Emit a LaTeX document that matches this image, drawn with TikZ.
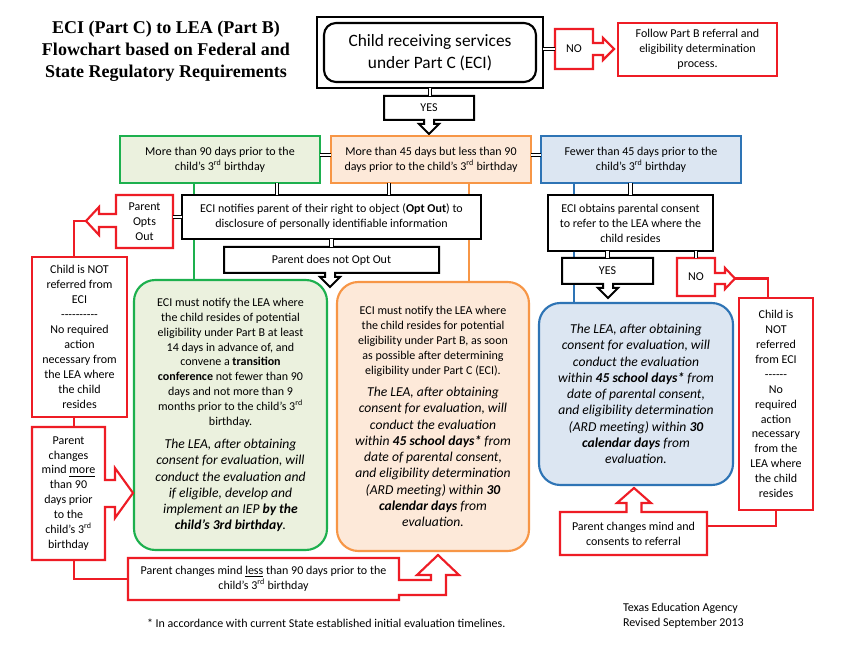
\documentclass[tikz,border=0pt]{standalone}
\usepackage{fontspec}
\setmainfont{Carlito}
\newfontfamily\ttlfont{Liberation Serif}
\usetikzlibrary{calc,backgrounds}
\definecolor{gfill}{HTML}{EBF1DE}
\definecolor{gline}{HTML}{1DB04E}
\definecolor{ofill}{HTML}{FDE9D9}
\definecolor{oline}{HTML}{F79646}
\definecolor{bfill}{HTML}{DCE6F2}
\definecolor{bline}{HTML}{2E74B5}
\definecolor{redc}{HTML}{EE1C25}
\newcommand\fsn{\fontsize{9}{11.2}\selectfont}
\newcommand\fsr{\fontsize{9}{12.2}\selectfont}
\newcommand\thrd{\textsuperscript{rd}}
\newcommand\il[1]{{\fontsize{10.2}{12.2}\selectfont\itshape #1}}
\newcommand\bx[7]{\node[#6, minimum width={(#4-#2)*0.75pt}, minimum height={(#5-#3)*0.75pt}] (#1) at ({(#2+#4)/2},{(#3+#5)/2}) {#7};}
\begin{document}
\begin{tikzpicture}[x=0.75pt,y=-0.75pt,
  base/.style={inner sep=0pt,outer sep=0pt,align=center,font=\fsn},
  blk/.style={base,draw=black,line width=1.5pt,fill=white},
  redb/.style={base,draw=redc,line width=1.6pt,fill=white},
  co/.style={draw=redc,line width=1.6pt,fill=white,line join=miter},
  cob/.style={draw=black,line width=1.5pt,fill=white,line join=miter},
  gbox/.style={base,draw=gline,fill=gfill,line width=1.6pt},
  obox/.style={base,draw=oline,fill=ofill,line width=1.6pt},
  bbox/.style={base,draw=bline,fill=bfill,line width=1.6pt},
  rnd/.style={rounded corners=16pt,font=\fsr},
  dbl/.style={draw=black,double=white,double distance=1.6pt,line width=0.9pt},
  redline/.style={draw=redc,line width=2.2pt},
  vline/.style={line width=1.6pt}
]
\useasboundingbox (0,0) rectangle (850,645);

\coordinate (gx) at (194,0);
\coordinate (ox) at (469,0);
\coordinate (bxx) at (574,0);
\coordinate (d1) at (277,0);
\coordinate (d2) at (389,0);
\coordinate (dy) at (0,155);
\coordinate (lx) at (74,0);
\coordinate (rx) at (768,0);
\coordinate (ry) at (0,526);

% title
\node[base,font=\ttlfont\bfseries\fontsize{13.5}{16.5}\selectfont] (title) at (166,51) {ECI (Part C) to LEA (Part B)\\Flowchart based on Federal and\\State Regulatory Requirements};

% main box
\bx{main}{317}{17}{543}{88}{base,draw=black,line width=2.2pt,fill=white}{}
\bx{maininner}{324}{23}{536}{82}{base,draw=black,line width=1.6pt,rounded corners=9pt,font=\fontsize{13}{16.5}\selectfont}{Child receiving services\\under Part C (ECI)}

% NO (top)
\draw[co] (555,29) -- (593,29) -- (593,43) -- (603,43) -- (603,38) -- (614,49) -- (603,60) -- (603,55) -- (593,55) -- (593,69) -- (555,69) -- cycle;
\bx{no1}{555}{29}{593}{69}{base}{NO}
\bx{follow}{618}{23}{777}{76}{redb}{Follow Part B referral and\\eligibility determination\\process.}
\draw[dbl] (no1.west -| main.east) -- (no1.west);

% YES (top)
\draw[cob] (384,96) -- (474,96) -- (474,120) -- (434,120) -- (434,124) -- (439,124) -- (429,134) -- (419,124) -- (424,124) -- (424,120) -- (384,120) -- cycle;
\bx{yes1}{384}{96}{474}{120}{base}{YES}
\draw[dbl] (main.south) -- (main.south |- yes1.north);

% three condition boxes
\bx{green}{120}{136}{320}{183}{gbox}{More than 90 days prior to the\\child’s 3\thrd{} birthday}
\bx{orange}{331}{136}{531}{183}{obox}{More than 45 days but less than 90\\days prior to the child’s 3\thrd{} birthday}
\bx{blue}{541}{136}{741}{183}{bbox}{Fewer than 45 days prior to the\\child’s 3\thrd{} birthday}
\draw[dbl] (dy -| green.east) -- (dy -| orange.west);
\draw[dbl] (dy -| orange.east) -- (dy -| blue.west);

% notify
\bx{notify}{182}{195}{481}{239}{blk}{ECI notifies parent of their right to object (\textbf{Opt Out}) to\\disclosure of personally identifiable information}
\draw[dbl] (d1 |- green.south) -- (d1 |- notify.north);
\draw[dbl] (d2 |- orange.south) -- (d2 |- notify.north);

% parent opts out
\draw[co] (116,195) -- (173,195) -- (173,248) -- (116,248) -- (116,227) -- (99,227) -- (99,235) -- (86,221) -- (99,207) -- (99,214) -- (116,214) -- cycle;
\bx{optsout}{116}{195}{173}{248}{base}{Parent\\Opts\\Out}
\coordinate (optip) at (86,221);
\draw[dbl] (notify.west) -- (notify.west -| optsout.east);

% parent does not opt out
\draw[cob] (224,247) -- (439,247) -- (439,273) -- (335,273) -- (335,277) -- (340,277) -- (330,287) -- (320,277) -- (325,277) -- (325,273) -- (224,273) -- cycle;
\bx{notopt}{224}{247}{439}{273}{base}{Parent does not Opt Out}
\draw[dbl] (notify.south) -- (notify.south |- notopt.north);

% obtains consent
\bx{obtain}{548}{195}{713}{251}{blk}{ECI obtains parental consent\\to refer to the LEA where the\\child resides}
\draw[dbl] (obtain.north |- blue.south) -- (obtain.north);

% YES right
\draw[cob] (562,258) -- (653,258) -- (653,284) -- (613,284) -- (613,288) -- (618,288) -- (608,298) -- (598,288) -- (603,288) -- (603,284) -- (562,284) -- cycle;
\bx{yes2}{562}{258}{653}{284}{base}{YES}
\draw[dbl] (yes2.north |- obtain.south) -- (yes2.north);

% NO right
\draw[co] (677,258) -- (715,258) -- (715,273) -- (725,273) -- (725,268) -- (735,278.5) -- (725,289) -- (725,284) -- (715,284) -- (715,296) -- (677,296) -- cycle;
\bx{no2}{677}{258}{715}{296}{base}{NO}
\coordinate (notip) at (735,278.5);
\draw[dbl] (no2.north |- obtain.south) -- (no2.north);

% child not referred (right)
\bx{notR}{739}{298}{813}{510}{redb}{Child is\\NOT\\referred\\from ECI\\-{}-{}-{}-{}-{}-\\No\\required\\action\\necessary\\from the\\LEA where\\the child\\resides}
\draw[redline] (notip) -| (rx |- notR.north);

% parent consents
\draw[co] (560,512) -- (626.5,512) -- (626.5,503) -- (617,503) -- (634,488) -- (651,503) -- (641.5,503) -- (641.5,512) -- (707,512) -- (707,555) -- (560,555) -- cycle;
\bx{consent}{560}{512}{707}{555}{base}{Parent changes mind and\\consents to referral}
\draw[redline] (notR.south) |- (ry -| consent.east);

% rounded boxes
\bx{ground}{134}{280}{327}{550}{gbox,rnd}{ECI must notify the LEA where\\[-1pt]the child resides of potential\\[-1pt]eligibility under Part B at least\\[-1pt]14 days in advance of, and\\[-1pt]convene a \textbf{transition}\\[-1pt]\textbf{conference} not fewer than 90\\[-1pt]days and not more than 9\\[-1pt]months prior to the child’s 3\thrd\\[-1pt]birthday.\\[5pt]\il{The LEA, after obtaining}\\\il{consent for evaluation, will}\\\il{conduct the evaluation and}\\\il{if eligible, develop and}\\\il{implement an IEP \textbf{by the}}\\\il{\textbf{child’s 3rd birthday}.}}
\bx{oround}{337}{282}{529}{551}{obox,rnd}{ECI must notify the LEA where\\[-1pt]the child resides for potential\\[-1pt]eligibility under Part B, as soon\\[-1pt]as possible after determining\\[-1pt]eligibility under Part C (ECI).\\[4.5pt]\il{The LEA, after obtaining}\\\il{consent for evaluation, will}\\\il{conduct the evaluation}\\\il{within \textbf{45 school days*} from}\\\il{date of parental consent,}\\\il{and eligibility determination}\\\il{(ARD meeting) within \textbf{30}}\\\il{\textbf{calendar days} from}\\\il{evaluation.}}
\bx{bround}{539}{303}{733}{485}{bbox,rnd}{\il{The LEA, after obtaining}\\\il{consent for evaluation, will}\\\il{conduct the evaluation}\\\il{within \textbf{45 school days*} from}\\\il{date of parental consent,}\\\il{and eligibility determination}\\\il{(ARD meeting) within \textbf{30}}\\\il{\textbf{calendar days} from}\\\il{evaluation.}}

% child not referred (left)
\bx{notL}{32}{257}{127}{417}{redb}{Child is NOT\\referred from\\ECI\\-{}-{}-{}-{}-{}-{}-{}-{}-{}-\\No required\\action\\necessary from\\the LEA where\\the child\\resides}
\draw[redline] (optip) -| (lx |- notL.north);

% parent changes mind more
\draw[co] (32,427) -- (105,427) -- (105,480) -- (115,480) -- (115,468) -- (133,493) -- (115,518) -- (115,507) -- (105,507) -- (105,560) -- (32,560) -- cycle;
\bx{more}{32}{427}{105}{560}{base}{Parent\\changes\\mind \underline{more}\\than 90\\days prior\\to the\\child’s 3\thrd\\birthday}
\draw[redline] (lx |- notL.south) -- (lx |- more.north);

% parent changes mind less
\draw[co] (128,558) -- (399,558) -- (399,580) -- (431,580) -- (431,575) -- (417,575) -- (438,555) -- (459,575) -- (446,575) -- (446,595) -- (399,595) -- (399,600) -- (128,600) -- cycle;
\bx{lesser}{128}{558}{399}{600}{base}{Parent changes mind \underline{less} than 90 days prior to the\\child’s 3\thrd{} birthday}
\draw[redline] (lx |- more.south) |- (lesser.west);

% footnotes
\node[base,anchor=west] (foot) at (147,623) {* In accordance with current State established initial evaluation timelines.};
\node[base,anchor=west,align=left] (tea) at (623,616) {Texas Education Agency\\Revised September 2013};

\begin{scope}[on background layer]
\fill[white] (0,0) rectangle (850,645);
\draw[vline,gline] (gx |- green.south) -- (gx |- ground.north);
\draw[vline,oline] (ox |- orange.south) -- (ox |- oround.north);
\draw[vline,bline] (bxx |- blue.south) -- (bxx |- bround.north);
\end{scope}
\end{tikzpicture}
\end{document}
